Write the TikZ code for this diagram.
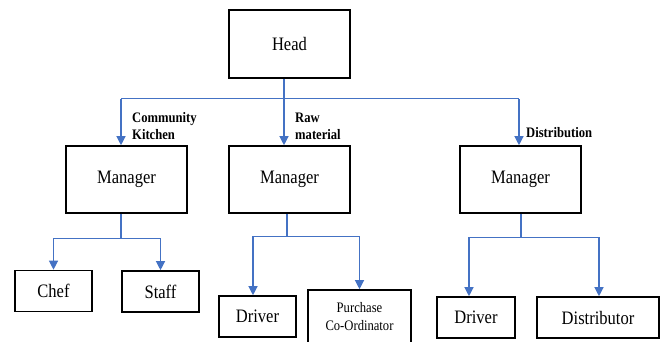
\documentclass[tikz,border=0pt]{standalone}
\usepackage{fontspec}
\setmainfont[FakeStretch=0.87]{Liberation Serif}
\usetikzlibrary{arrows.meta}
\definecolor{linkblue}{RGB}{68,114,196}
\tikzset{
  box/.style={draw=black, line width=1.6pt, inner sep=0pt, font=\fontsize{19}{21}\selectfont},
  bigbox/.style={box, minimum width=121pt, minimum height=67pt},
  smallbox/.style={box, minimum height=41pt},
  link/.style={draw=linkblue, line width=1.2pt},
  arrow/.style={link, -{Triangle[length=9pt,width=9pt]}},
  lbl/.style={font=\fontsize{14.5}{17}\selectfont\bfseries, align=left, anchor=west, inner sep=0pt}
}
\begin{document}
\begin{tikzpicture}[x=1pt,y=-1pt]
\useasboundingbox (0,0) rectangle (664,341);
% boxes
\node[bigbox, minimum height=68pt] (head) at (289.5,44) {Head};
\node[bigbox] (m1) at (126.5,179.5) {Manager};
\node[bigbox] (m2) at (289.5,179.5) {Manager};
\node[bigbox] (m3) at (520.5,179.5) {Manager};
\node[smallbox, minimum width=77pt] (chef) at (53.5,291) {Chef};
\node[smallbox, minimum width=77pt] (staff) at (160.5,291.5) {Staff};
\node[smallbox, minimum width=77pt] (drv1) at (257.5,316.5) {Driver};
\node[box, minimum width=103pt, minimum height=54pt, align=center, font=\fontsize{14.5}{18}\selectfont] (pur) at (359.5,317) {Purchase\\Co-Ordinator};
\node[smallbox, minimum width=78pt] (drv2) at (476,317.5) {Driver};
\node[smallbox, minimum width=122pt] (dist) at (598,317.5) {Distributor};
% labels
\node[lbl] (l1) at (132,126.5) {Community\\Kitchen};
\node[lbl] (l2) at (295,126.5) {Raw\\material};
\node[lbl] (l3) at (526,133) {Distribution};
% connectors from head
\coordinate (a1) at ([xshift=-5.5pt]m1.north);
\coordinate (a2) at ([xshift=-5.5pt]m2.north);
\coordinate (a3) at ([xshift=-1.5pt]m3.north);
\draw[link] ([xshift=-5.5pt]head.south) -- ++(0,20) coordinate (hb);
\draw[link] (a1 |- hb) -- (a3 |- hb);
\draw[arrow] (a1 |- hb) -- (a1);
\draw[arrow] (hb) -- (a2);
\draw[arrow] (a3 |- hb) -- (a3);
% manager 1
\draw[link] ([xshift=-5.5pt]m1.south) -- ++(0,25) coordinate (b1);
\draw[arrow] (b1) -| (chef.north);
\draw[arrow] (b1) -| (staff.north);
% manager 2
\coordinate (d1) at ([xshift=-4.5pt]drv1.north);
\draw[link] ([xshift=-2.5pt]m2.south) -- ++(0,23) coordinate (b2);
\draw[arrow] (b2) -| (d1);
\draw[arrow] (b2) -| (pur.north);
% manager 3
\coordinate (d2) at ([xshift=-7pt]drv2.north);
\coordinate (d3) at ([xshift=1pt]dist.north);
\draw[link] ([xshift=0.5pt]m3.south) -- ++(0,24) coordinate (b3);
\draw[arrow] (b3) -| (d2);
\draw[arrow] (b3) -| (d3);
\end{tikzpicture}
\end{document}
